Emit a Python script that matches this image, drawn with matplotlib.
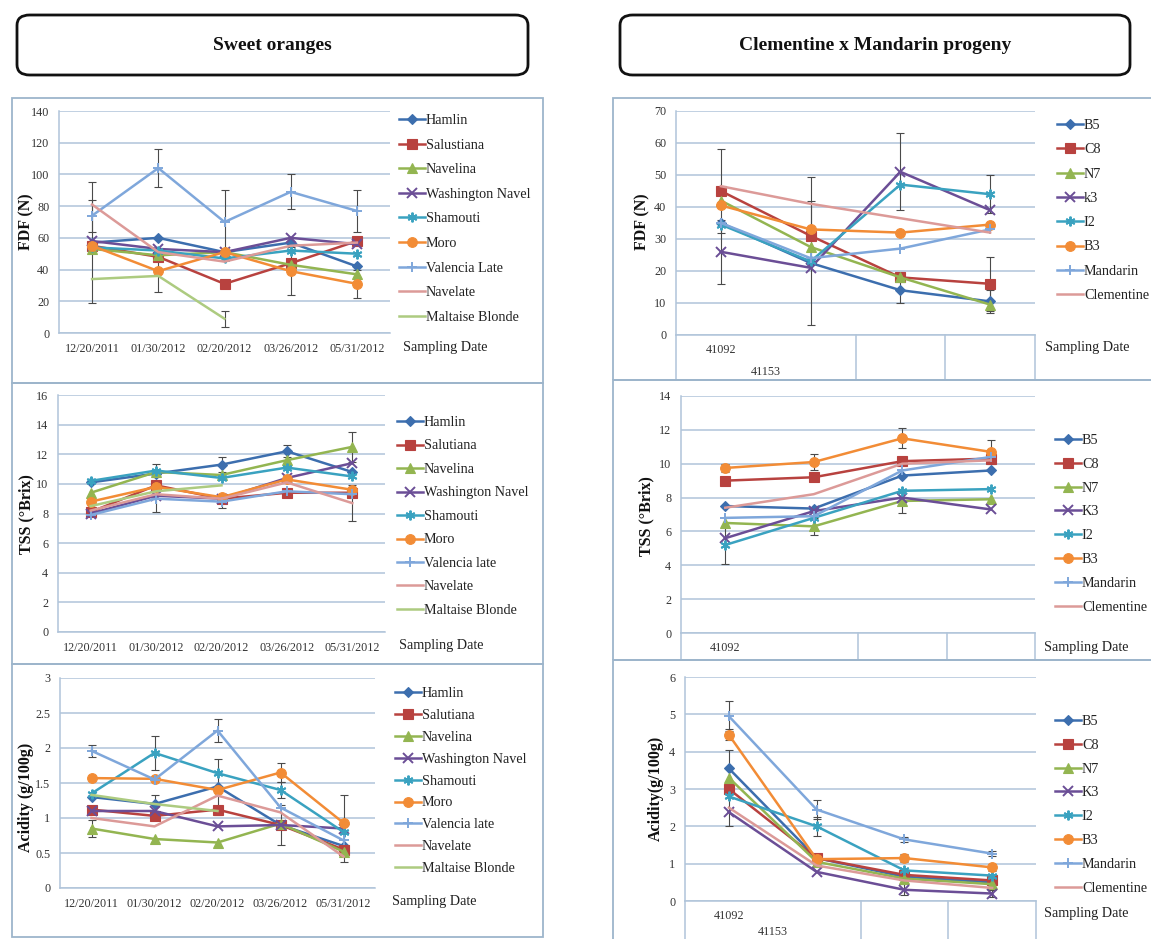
import numpy as np
import matplotlib
matplotlib.use('Agg')
import matplotlib.pyplot as plt
from matplotlib.patches import FancyBboxPatch, Rectangle
import matplotlib.transforms as mtransforms

nan = np.nan

#%% data - sweet oranges
dates = ['12/20/2011', '01/30/2012', '02/20/2012', '03/26/2012', '05/31/2012']

fdf_names = ['Hamlin', 'Salustiana', 'Navelina', 'Washington Navel', 'Shamouti',
             'Moro', 'Valencia Late', 'Navelate', 'Maltaise Blonde']
fdf_hamlin = [57, 60, 51, 57, 42]
fdf_salus = [55, 48, 31, 44, 58]
fdf_navelina = [53, 49, 51, 43, 37]
fdf_wnavel = [58, 53, 51, 60, 56]
fdf_shamouti = [54, 52, 47, 52, 50]
fdf_moro = [55, 39, 51, 39, 31]
fdf_valencia = [74, 104, 70, 89, 77]
fdf_navelate = [81, 51, 45, 55, 57]
fdf_maltaise = [34, 36, 9, nan, nan]
fdf_err_hamlin = [38, nan, nan, nan, nan]
fdf_err_valencia = [10, 12, 20, 11, 13]
fdf_err_maltaise = [nan, 10, 5, nan, nan]
fdf_err_moro = [nan, nan, nan, 15, 9]

tss_names = ['Hamlin', 'Salutiana', 'Navelina', 'Washington Navel', 'Shamouti',
             'Moro', 'Valencia late', 'Navelate', 'Maltaise Blonde']
tss_hamlin = [10.1, 10.7, 11.3, 12.2, 10.8]
tss_salut = [8.1, 9.9, 9.0, 9.4, 9.4]
tss_navelina = [9.4, 10.8, 10.6, 11.6, 12.5]
tss_wnavel = [8.0, 9.2, 9.0, 10.4, 11.4]
tss_shamouti = [10.2, 10.9, 10.4, 11.1, 10.5]
tss_moro = [8.8, 9.8, 9.1, 10.3, 9.6]
tss_valencia = [7.9, 9.0, 8.8, 9.5, 9.3]
tss_navelate = [8.2, 9.3, 9.0, 10.1, 8.7]
tss_maltaise = [8.5, 9.5, 9.9, nan, nan]
tss_err_hamlin = [nan, nan, 0.5, 0.4, nan]
tss_err_navelina = [nan, nan, nan, nan, 1.0]
tss_err_shamouti = [nan, 0.45, nan, nan, nan]
tss_err_valencia = [nan, 0.9, 0.4, nan, nan]
tss_err_navelate = [nan, nan, nan, nan, 1.2]

acid_names = ['Hamlin', 'Salutiana', 'Navelina', 'Washington Navel', 'Shamouti',
              'Moro', 'Valencia late', 'Navelate', 'Maltaise Blonde']
acid_hamlin = [1.30, 1.20, 1.45, 0.90, 0.60]
acid_salut = [1.12, 1.03, 1.12, 0.90, 0.55]
acid_navelina = [0.85, 0.70, 0.65, 0.92, 0.52]
acid_wnavel = [1.10, 1.10, 0.88, 0.90, 0.85]
acid_shamouti = [1.35, 1.93, 1.64, 1.40, 0.80]
acid_moro = [1.57, 1.56, 1.40, 1.65, 0.93]
acid_valencia = [1.96, 1.55, 2.25, 1.15, 0.68]
acid_navelate = [1.00, 0.88, 1.32, 1.08, 0.45]
acid_maltaise = [1.33, 1.20, 1.10, nan, nan]
acid_err_hamlin = [nan, 0.13, 0.40, nan, nan]
acid_err_navelina = [0.12, nan, nan, nan, nan]
acid_err_wnavel = [nan, nan, nan, 0.28, nan]
acid_err_shamouti = [nan, 0.24, nan, 0.12, nan]
acid_err_moro = [nan, nan, nan, 0.13, 0.40]
acid_err_valencia = [0.09, nan, 0.17, nan, nan]
acid_err_navelate = [nan, nan, nan, nan, 0.08]

#%% data - clementine x mandarin
n_pts = 4
cat_labels = ['41092', '41153']

rfdf_names = ['B5', 'C8', 'N7', 'k3', 'I2', 'B3', 'Mandarin', 'Clementine']
rfdf_b5 = [35, 22.5, 14, 10.5]
rfdf_c8 = [45, 31, 18, 16]
rfdf_n7 = [42, 27.5, 18, 9.5]
rfdf_k3 = [26, 21, 51, 39]
rfdf_i2 = [34.5, 23, 47, 44]
rfdf_b3 = [40.5, 33, 32, 34.5]
rfdf_mand = [35, 24, 27, 33]
rfdf_clem = [46.5, 41, 36.5, 32]
rfdf_err_b5 = [nan, 19.5, 4, 3.5]
rfdf_err_c8 = [13, nan, nan, 8.5]
rfdf_err_k3 = [10, nan, 12, nan]
rfdf_err_i2 = [nan, nan, nan, 6]
rfdf_err_clem = [nan, 8.5, nan, nan]

rtss_names = ['B5', 'C8', 'N7', 'K3', 'I2', 'B3', 'Mandarin', 'Clementine']
rtss_b5 = [7.5, 7.35, 9.3, 9.6]
rtss_c8 = [9.0, 9.2, 10.15, 10.3]
rtss_n7 = [6.5, 6.3, 7.8, 7.9]
rtss_k3 = [5.6, 7.2, 8.0, 7.3]
rtss_i2 = [5.2, 6.8, 8.4, 8.5]
rtss_b3 = [9.75, 10.1, 11.5, 10.7]
rtss_mand = [6.8, 6.9, 9.6, 10.4]
rtss_clem = [7.4, 8.2, 10.0, 10.2]
rtss_err_n7 = [nan, 0.5, 0.7, nan]
rtss_err_i2 = [1.1, nan, nan, nan]
rtss_err_b3 = [0.25, 0.5, 0.6, 0.7]

racid_names = ['B5', 'C8', 'N7', 'K3', 'I2', 'B3', 'Mandarin', 'Clementine']
racid_b5 = [3.55, 1.15, 0.65, 0.50]
racid_c8 = [3.0, 1.15, 0.70, 0.55]
racid_n7 = [3.3, 1.05, 0.60, 0.45]
racid_k3 = [2.38, 0.78, 0.30, 0.20]
racid_i2 = [2.8, 2.0, 0.82, 0.68]
racid_b3 = [4.45, 1.12, 1.15, 0.90]
racid_mand = [4.95, 2.45, 1.65, 1.27]
racid_clem = [2.5, 0.95, 0.55, 0.35]
racid_err_b5 = [0.5, nan, nan, nan]
racid_err_k3 = [0.38, nan, 0.15, 0.1]
racid_err_i2 = [nan, 0.25, nan, nan]
racid_err_b3 = [0.15, 0.15, 0.1, 0.1]
racid_err_mand = [0.4, 0.25, 0.06, 0.06]

#%% styles (excel 2007 look)
colors = ['#3C6EAE', '#B8423F', '#93B551', '#6B4E96', '#3AA2C0',
          '#F28C36', '#7FA7DB', '#DC9A98', '#ADCB80']
markers = ['D', 's', '^', 'x', (6, 2, 0), 'o', '+', None, None]
msizes = [5, 6.5, 6.5, 6.5, 7, 7, 7, 0, 0]

W, H = 1151, 939
plt.rcParams['font.family'] = ['Liberation Serif', 'DejaVu Serif']
fig = plt.figure(figsize=(W / 100, H / 100), dpi=100)

grid_c = '#B0C4DA'
frame_c = '#9DB5CB'
LEG_FS = 10.2


def add_ax(x0, y0, x1, y1):
    return fig.add_axes([x0 / W, 1 - y1 / H, (x1 - x0) / W, (y1 - y0) / H])


def draw_series(ax, series, errs):
    handles = []
    for i, ys in enumerate(series):
        ys = np.array(ys, dtype=float)
        xs = np.arange(len(ys))
        e = errs.get(i)
        if e is not None:
            ax.errorbar(xs, ys, yerr=np.array(e, dtype=float), fmt='none',
                        ecolor='#4a4a4a', elinewidth=0.8, capsize=3, capthick=0.8, zorder=2)
        ln, = ax.plot(xs, ys, color=colors[i], lw=1.8, marker=markers[i],
                      ms=msizes[i], mew=1.4 if markers[i] in ('x', '+', (6, 2, 0)) else 0.8,
                      mec=colors[i], zorder=3)
        handles.append(ln)
    return handles


def style_ax(ax, ymax, ystep, npts):
    ax.set_ylim(0, ymax)
    ax.set_xlim(-0.5, npts - 0.5)
    ax.set_yticks(np.arange(0, ymax + ystep / 2, ystep))
    ax.yaxis.grid(True, color=grid_c, lw=1.1)
    ax.set_axisbelow(True)
    for s in ['top', 'right']:
        ax.spines[s].set_visible(False)
    for s in ['left', 'bottom']:
        ax.spines[s].set_color(grid_c)
        ax.spines[s].set_linewidth(1.1)
    ax.tick_params(length=0, labelsize=8.7, labelcolor='#333333', pad=7)
    ax.patch.set_alpha(0)


def add_legend(ax, handles, names, x, yc, spacing):
    fs_px = LEG_FS * 100 / 72
    leg = ax.legend(handles, names, loc='upper left',
                    bbox_to_anchor=(x / W, 1 - (yc - 6) / H),
                    bbox_transform=fig.transFigure, frameon=False, handlelength=1.8,
                    handletextpad=0.1, borderaxespad=0, borderpad=0,
                    labelspacing=(spacing - 0.904 * fs_px) / fs_px, prop={'size': LEG_FS})
    for t in leg.get_texts():
        t.set_color('#222222')
    return leg


def side_texts(ylab, ylab_pos, sd_pos):
    fig.text(ylab_pos[0] / W, 1 - ylab_pos[1] / H, ylab, rotation=90, ha='center',
             va='center', fontsize=11.5, fontweight='bold', color='#111111')
    fig.text(sd_pos[0] / W, 1 - sd_pos[1] / H, 'Sampling Date', fontsize=LEG_FS,
             va='center', ha='left', color='#222222')


#%% frames and title boxes
for (x0, y0, x1, y1) in [(12, 98, 543, 383), (12, 383, 543, 664), (12, 664, 543, 937),
                         (613, 98, 1160, 380), (613, 380, 1160, 660), (613, 660, 1160, 945)]:
    fig.patches.append(Rectangle((x0 / W, 1 - y1 / H), (x1 - x0) / W, (y1 - y0) / H,
                                 transform=fig.transFigure, fill=False, ec=frame_c, lw=1.3))

for (x0, x1, title) in [(17, 528, 'Sweet oranges'), (620, 1130, 'Clementine x Mandarin progeny')]:
    fig.patches.append(FancyBboxPatch((x0 / W, 1 - 75 / H), (x1 - x0) / W, 60 / H,
                                      boxstyle='round,pad=0,rounding_size=0.011',
                                      transform=fig.transFigure, fc='white', ec='#111111', lw=2.0))
    fig.text((x0 + x1) / 2 / W, 1 - 46 / H, title, ha='center', va='center',
             fontsize=14, fontweight='bold', color='#111111')

#%% left: sweet oranges
left_panels = [
    ((59, 111, 390, 333), 140, 20, 'FDF (N)', fdf_names,
     [fdf_hamlin, fdf_salus, fdf_navelina, fdf_wnavel, fdf_shamouti, fdf_moro,
      fdf_valencia, fdf_navelate, fdf_maltaise],
     {0: fdf_err_hamlin, 5: fdf_err_moro, 6: fdf_err_valencia, 8: fdf_err_maltaise},
     (399, 120, 24.4), (26, 222), (403, 347)),
    ((58, 395, 385, 632), 16, 2, 'TSS (°Brix)', tss_names,
     [tss_hamlin, tss_salut, tss_navelina, tss_wnavel, tss_shamouti, tss_moro,
      tss_valencia, tss_navelate, tss_maltaise],
     {0: tss_err_hamlin, 2: tss_err_navelina, 4: tss_err_shamouti, 6: tss_err_valencia,
      7: tss_err_navelate},
     (397, 422, 23.3), (26, 514), (399, 645)),
    ((60, 678, 375, 888), 3, 0.5, 'Acidity (g/100g)', acid_names,
     [acid_hamlin, acid_salut, acid_navelina, acid_wnavel, acid_shamouti, acid_moro,
      acid_valencia, acid_navelate, acid_maltaise],
     {0: acid_err_hamlin, 2: acid_err_navelina, 3: acid_err_wnavel, 4: acid_err_shamouti,
      5: acid_err_moro, 6: acid_err_valencia, 7: acid_err_navelate},
     (395, 693, 21.7), (26, 797), (392, 901)),
]

for box, ymax, ystep, ylab, names, series, errs, leg_pos, ylab_pos, sd_pos in left_panels:
    ax = add_ax(*box)
    hs = draw_series(ax, series, errs)
    style_ax(ax, ymax, ystep, len(dates))
    ax.set_xticks(range(len(dates)))
    ax.set_xticklabels(dates)
    if ymax == 3:
        ax.set_yticklabels(['0', '0.5', '1', '1.5', '2', '2.5', '3'])
    add_legend(ax, hs, names, *leg_pos)
    side_texts(ylab, ylab_pos, sd_pos)

#%% right: clementine x mandarin progeny
right_panels = [
    ((676, 111, 1035, 335), 70, 10, 'FDF (N)', rfdf_names,
     [rfdf_b5, rfdf_c8, rfdf_n7, rfdf_k3, rfdf_i2, rfdf_b3, rfdf_mand, rfdf_clem],
     {0: rfdf_err_b5, 1: rfdf_err_c8, 3: rfdf_err_k3, 4: rfdf_err_i2, 7: rfdf_err_clem},
     (1057, 125, 24.1), (642, 222), (1045, 348), 380, [(0.0, 15), (0.5, 37)]),
    ((681, 396, 1035, 633), 14, 2, 'TSS (°Brix)', rtss_names,
     [rtss_b5, rtss_c8, rtss_n7, rtss_k3, rtss_i2, rtss_b3, rtss_mand, rtss_clem],
     {2: rtss_err_n7, 4: rtss_err_i2, 5: rtss_err_b3},
     (1055, 440, 23.6), (646, 516), (1044, 647), 660, [(0.0, 15)]),
    ((685, 677, 1036, 901), 6, 1, 'Acidity(g/100g)', racid_names,
     [racid_b5, racid_c8, racid_n7, racid_k3, racid_i2, racid_b3, racid_mand, racid_clem],
     {0: racid_err_b5, 3: racid_err_k3, 4: racid_err_i2, 5: racid_err_b3, 6: racid_err_mand},
     (1055, 721, 23.6), (656, 788), (1044, 914), 939, [(0.0, 15), (0.5, 31)]),
]

for (box, ymax, ystep, ylab, names, series, errs, leg_pos, ylab_pos, sd_pos,
     bottom, labs) in right_panels:
    ax = add_ax(*box)
    hs = draw_series(ax, series, errs)
    style_ax(ax, ymax, ystep, n_pts)
    ax.set_xticks([])
    ax.spines['bottom'].set_visible(False)
    # category table below the axis (excel multi-level category look)
    hgt = box[3] - box[1]
    depth = (bottom - box[3]) / hgt
    trans = mtransforms.blended_transform_factory(ax.transData, ax.transAxes)
    ax.plot([-0.5, n_pts - 0.5], [0, 0], transform=trans, color=grid_c, lw=1.1, clip_on=False)
    for xb in [-0.5, 1.5, 2.5, 3.5]:
        ax.plot([xb, xb], [0, -depth], transform=trans, color=grid_c, lw=1.1, clip_on=False)
    for k, (xc, dy) in enumerate(labs):
        ax.text(xc, -dy / hgt, cat_labels[k], transform=trans,
                ha='center', va='center', fontsize=8.7, color='#333333')
    add_legend(ax, hs, names, *leg_pos)
    side_texts(ylab, ylab_pos, sd_pos)

plt.savefig('out.png', dpi=100)
